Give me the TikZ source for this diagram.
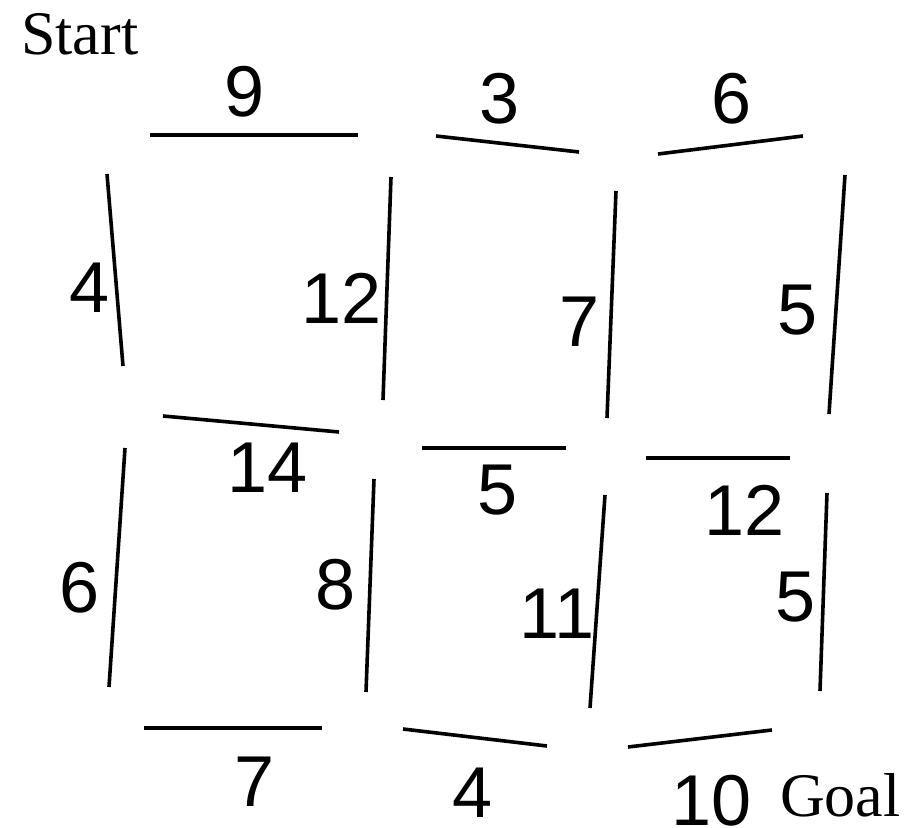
\documentclass[tikz,border=0pt]{standalone}
\usepackage{fontspec}
\setmainfont{Liberation Serif}
\newfontfamily\numfont{Liberation Sans}
\begin{document}
\begin{tikzpicture}[x=1pt,y=-1pt,
  edge/.style={line width=3.6pt,black},
  wlabel/.style={inner sep=0pt,font=\numfont\fontsize{72}{80}\selectfont},
  tlabel/.style={inner sep=0pt,anchor=base west,font=\fontsize{62}{70}\selectfont}]
\useasboundingbox (0,0) rectangle (914,828);
% text labels
\node[tlabel] (start) at (21,54) {Start};
\node[tlabel] (goal) at (780,816) {Goal};
% top row horizontals
\coordinate (h1a) at (150,135); \coordinate (h1b) at (358,135);
\coordinate (h2a) at (436,136); \coordinate (h2b) at (579,152);
\coordinate (h3a) at (658,154); \coordinate (h3b) at (803,136);
% top row verticals
\coordinate (v1a) at (107,174); \coordinate (v1b) at (123,366);
\coordinate (v2a) at (391,177); \coordinate (v2b) at (383,400);
\coordinate (v3a) at (616,191); \coordinate (v3b) at (607,418);
\coordinate (v4a) at (845,175); \coordinate (v4b) at (829,414);
% middle horizontals
\coordinate (m1a) at (163,416); \coordinate (m1b) at (339,432);
\coordinate (m2a) at (422,448); \coordinate (m2b) at (566,448);
\coordinate (m3a) at (646,458); \coordinate (m3b) at (790,458);
% bottom row verticals
\coordinate (w1a) at (125,448); \coordinate (w1b) at (109,687);
\coordinate (w2a) at (374,479); \coordinate (w2b) at (366,692);
\coordinate (w3a) at (605,495); \coordinate (w3b) at (590,708);
\coordinate (w4a) at (827,493); \coordinate (w4b) at (820,691);
% bottom horizontals
\coordinate (b1a) at (144,728); \coordinate (b1b) at (322,728);
\coordinate (b2a) at (403,729); \coordinate (b2b) at (547,746);
\coordinate (b3a) at (628,747); \coordinate (b3b) at (772,730);
% edges
\foreach \e in {h1,h2,h3,v1,v2,v3,v4,m1,m2,m3,w1,w2,w3,w4,b1,b2,b3}
  \draw[edge] (\e a) -- (\e b);
% weights
\node[wlabel] (l9) at (245,92) {9};
\node[wlabel] (l3) at (500,99) {3};
\node[wlabel] (l6) at (732,99) {6};
\node[wlabel] (l4) at (90,288) {4};
\node[wlabel] (l12a) at (342,298) {12};
\node[wlabel] (l7a) at (580,322) {7};
\node[wlabel] (l5a) at (798,310) {5};
\node[wlabel] (l14) at (268,468) {14};
\node[wlabel] (l5b) at (498,490) {5};
\node[wlabel] (l12b) at (745,510) {12};
\node[wlabel] (l6b) at (80,588) {6};
\node[wlabel] (l8) at (336,585) {8};
\node[wlabel] (l11) at (557,614) {11};
\node[wlabel] (l5c) at (796,597) {5};
\node[wlabel] (l7b) at (255,782) {7};
\node[wlabel] (l4b) at (473,793) {4};
\node[wlabel] (l10) at (712,801) {10};
\end{tikzpicture}
\end{document}
